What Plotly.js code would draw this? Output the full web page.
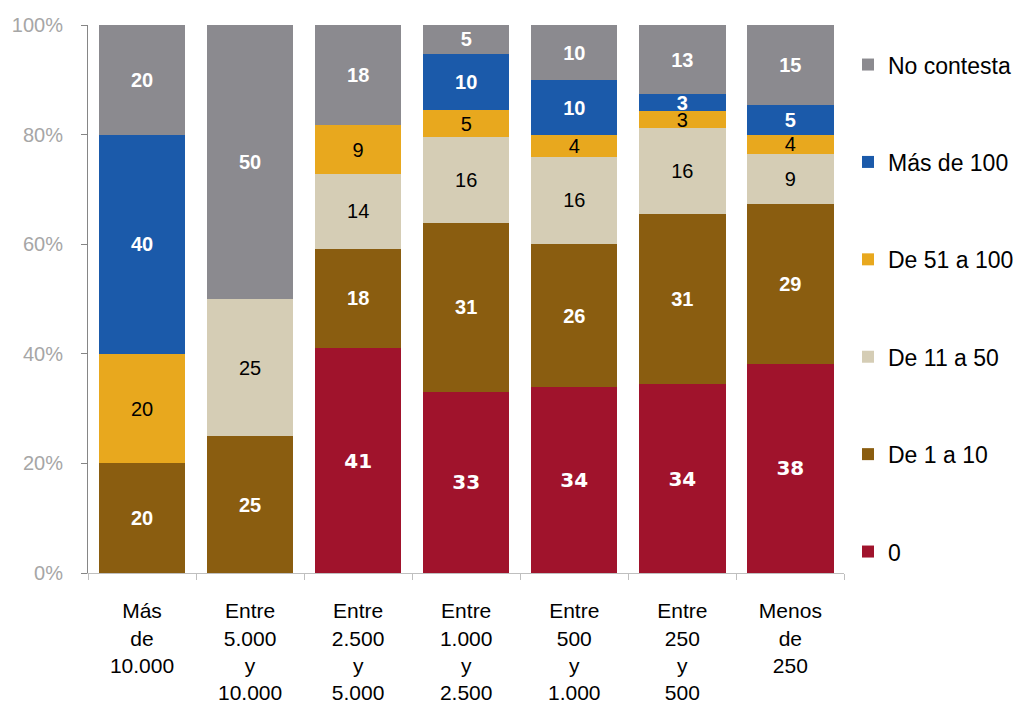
<!DOCTYPE html>
<html>
<head>
<meta charset="utf-8">
<script src="https://cdn.plot.ly/plotly-3.0.1.min.js"></script>
<style>html,body{margin:0;padding:0;background:#fff;}#chart{width:1019px;height:704px;}</style>
</head>
<body>
<div id="chart"></div>
<script>
// Categories (x-axis tick labels)
const categories = [
  'Más<br>de<br>10.000',
  'Entre<br>5.000<br>y<br>10.000',
  'Entre<br>2.500<br>y<br>5.000',
  'Entre<br>1.000<br>y<br>2.500',
  'Entre<br>500<br>y<br>1.000',
  'Entre<br>250<br>y<br>500',
  'Menos<br>de<br>250'
];

// Series values (percent)
const cero        = [0,    0,    41.0, 33.1, 33.9, 34.4, 38.2];
const de1a10      = [20,   25,   18.2, 30.8, 26.1, 31.2, 29.1];
const de11a50     = [0,    25,   13.6, 15.6, 16.0, 15.6, 9.1];
const de51a100    = [20,   0,    8.9,  5.0,  3.9,  3.1,  3.6];
const masDe100    = [40,   0,    0,    10.3, 10.0, 3.1,  5.4];
const noContesta  = [20,   50,   18.3, 5.2,  10.1, 12.6, 14.6];

const seriesNames = ['0', 'De 1 a 10', 'De 11 a 50', 'De 51 a 100', 'Más de 100', 'No contesta'];
const yTickVals = [0, 20, 40, 60, 80, 100];

const colors = ['#A0132C', '#8A5D10', '#D5CDB5', '#E8A81E', '#1B5AAA', '#8B8A8F'];
const arial = 'Arial, "Liberation Sans", sans-serif';
const textFonts = [
  {family: 'Verdana, "DejaVu Sans", sans-serif', size: 20, color: '#FFFFFF', weight: 'bold'},
  {family: arial, size: 20, color: '#FFFFFF', weight: 'bold'},
  {family: arial, size: 20, color: '#000000', weight: 'normal'},
  {family: arial, size: 20, color: '#000000', weight: 'normal'},
  {family: arial, size: 20, color: '#FFFFFF', weight: 'bold'},
  {family: arial, size: 20, color: '#FFFFFF', weight: 'bold'}
];

const allSeries = [cero, de1a10, de11a50, de51a100, masDe100, noContesta];

const traces = allSeries.map((vals, i) => ({
  type: 'bar',
  name: seriesNames[i],
  x: categories,
  y: vals,
  text: vals.map(v => v > 0 ? String(Math.round(v)) : ''),
  texttemplate: '%{text}',
  textposition: 'inside',
  insidetextanchor: 'middle',
  textangle: 0,
  constraintext: 'none',
  textfont: textFonts[i],
  marker: {color: colors[i], line: {width: 0}},
  legendgroup: 'g' + i,
  legendrank: 100 - i,
  hoverinfo: 'skip'
}));

const layout = {
  width: 1019,
  height: 704,
  margin: {l: 88, r: 0, t: 25, b: 131},
  barmode: 'stack',
  bargap: 0.2,
  paper_bgcolor: '#FFFFFF',
  plot_bgcolor: '#FFFFFF',
  showlegend: true,
  legend: {
    x: 0.8185, xanchor: 'left',
    y: 0.967, yanchor: 'top',
    traceorder: 'grouped',
    tracegroupgap: 64.5,
    font: {family: arial, size: 23, color: '#000000'},
    bgcolor: 'rgba(0,0,0,0)'
  },
  xaxis: {
    type: 'category',
    domain: [0, 0.8142],
    tickson: 'boundaries',
    ticks: 'outside',
    ticklen: 6,
    tickcolor: '#BFBFBF',
    showline: true,
    linecolor: '#BFBFBF',
    linewidth: 1,
    showgrid: false,
    tickfont: {family: arial, size: 21, color: '#000000'},
    ticklabelstandoff: 19,
    fixedrange: true
  },
  yaxis: {
    range: [0, 100],
    tickvals: yTickVals,
    ticktext: yTickVals.map(v => v + '%'),
    ticks: 'outside',
    ticklen: 6,
    tickcolor: '#868686',
    showline: true,
    linecolor: '#868686',
    linewidth: 1,
    showgrid: false,
    zeroline: false,
    tickfont: {family: arial, size: 20, color: '#A6A6A6'},
    ticklabelstandoff: 14,
    fixedrange: true
  }
};

Plotly.newPlot('chart', traces, layout, {displayModeBar: false, staticPlot: true});
</script>
</body>
</html>
